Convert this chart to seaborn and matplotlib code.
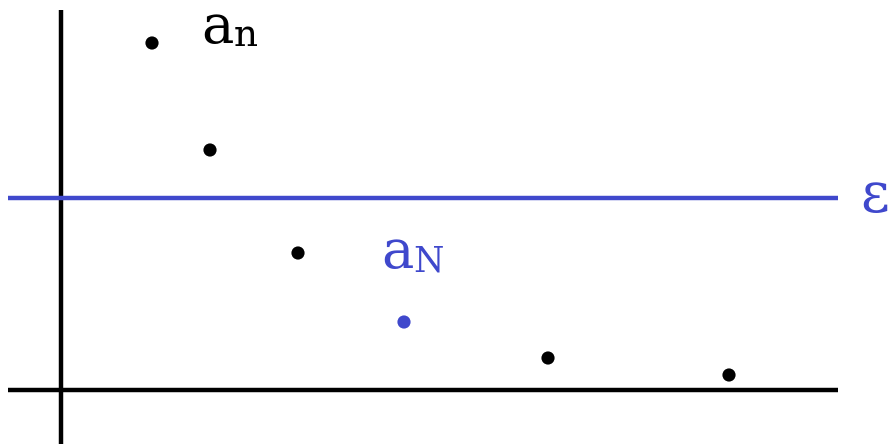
import matplotlib
matplotlib.use("Agg")
import matplotlib.pyplot as plt
import seaborn as sns
import pandas as pd

sns.set_style("white")

# sequence points (pixel-like coordinates, y grows downward)
seq_x = [152, 210, 298, 404, 548, 729]
seq_y = [43, 150, 253, 322, 358, 375]
seq_kind = ["n", "n", "n", "N", "n", "n"]
eps_level = 198
axis_level = 390
axis_x = 61

blue = "#3f48cc"
df = pd.DataFrame({"x": seq_x, "y": seq_y, "kind": seq_kind})

fig = plt.figure(figsize=(8.88, 4.44), dpi=100)
ax = fig.add_axes([0, 0, 1, 1])
ax.set_xlim(0, 888)
ax.set_ylim(444, 0)
ax.axis("off")

# axes
ax.plot([8, 838], [axis_level, axis_level], color="black", lw=3.2, solid_capstyle="butt")
ax.plot([axis_x, axis_x], [10, 444], color="black", lw=3.2, solid_capstyle="butt")
# epsilon line
ax.plot([8, 838], [eps_level, eps_level], color=blue, lw=3.2, solid_capstyle="butt")

sns.scatterplot(data=df, x="x", y="y", hue="kind", palette={"n": "black", "N": blue},
                s=90, edgecolor="none", legend=False, ax=ax)

serif = "DejaVu Serif"
ax.text(201, 43, "a", fontsize=39, family=serif, color="black", va="baseline")
ax.text(234, 46, "n", fontsize=27, family=serif, color="black", va="baseline")
ax.text(381, 268, "a", fontsize=39, family=serif, color=blue, va="baseline")
ax.text(413, 271, "N", fontsize=25, family=serif, color=blue, va="baseline")
ax.text(860, 212, "ε", fontsize=40, family=serif, color=blue, va="baseline")

fig.savefig("out.png", dpi=100)
